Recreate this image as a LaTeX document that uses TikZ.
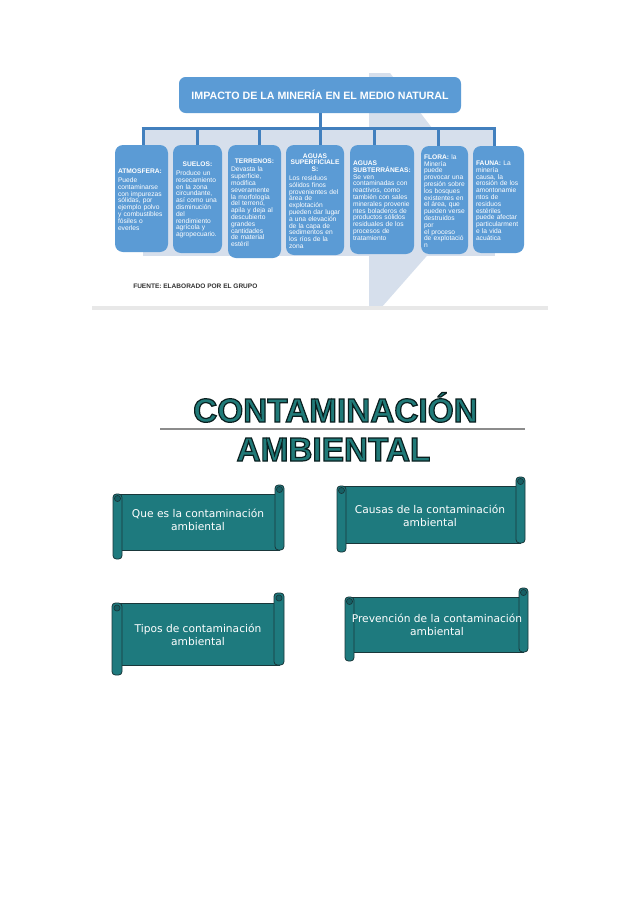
\documentclass[tikz,border=0pt]{standalone}
\usepackage{fontspec}
\usepackage{graphicx}
\setmainfont{Liberation Sans}
\newfontfamily\scrollfont{DejaVu Sans}
\definecolor{boxblue}{RGB}{91,155,213}
\definecolor{linkblue}{RGB}{66,128,190}
\definecolor{paleblue}{RGB}{214,223,236}
\definecolor{titleteal}{RGB}{32,122,120}
\definecolor{scrollteal}{RGB}{30,122,126}
\definecolor{scrollline}{RGB}{25,55,58}
\definecolor{curlteal}{RGB}{22,95,100}
\definecolor{srcgray}{RGB}{51,51,51}
\newcommand{\J}[1]{\par\noindent\hbox to \hsize{#1}\par}
\newcommand{\Lf}[1]{\par\noindent\hbox to \hsize{#1\hfil}\par}
\newcommand{\Cn}[1]{\par\noindent\hbox to \hsize{\hfil#1\hfil}\par}
\newcommand{\gapline}{\par\kern1.5pt}
\newcommand{\olt}[1]{\special{pdf:literal direct 2 Tr 0.9 w 0.04 0.12 0.12 RG}#1\special{pdf:literal direct 0 Tr 0.4 w}}
\newcommand{\scrollshape}[5]{%
  \filldraw[scrollbody] ({#1+#5/2},{#2+#5}) rectangle ({#3-#5/2},{#4-#5});
  \filldraw[scrollbody, rounded corners=2.5pt] ({#3-#5},{#2}) rectangle (#3,{#4-#5});
  \filldraw[scrollbody, rounded corners=2.5pt] (#1,{#2+#5}) rectangle ({#1+#5},#4);
  \filldraw[scrollcurl] ({#3-#5/2},{#2+#5/2}) circle[radius=2.3pt];
  \filldraw[scrollcurl] ({#1+#5/2},{#2+#5+#5/2}) circle[radius=2.3pt];
}
\tikzset{
  mbox/.style={fill=boxblue, rounded corners=6pt, inner xsep=2.25pt, inner ysep=0pt,
    text=white, font=\fontsize{5}{5.1}\selectfont, anchor=center},
  link/.style={draw=linkblue, line width=2.25pt},
  scrollbody/.style={fill=scrollteal, draw=scrollline, line width=0.6pt},
  scrollcurl/.style={fill=curlteal, draw=scrollline, line width=0.5pt},
  scrolltext/.style={align=center, text=white, font=\scrollfont\fontsize{8}{9.75}\selectfont},
  titletext/.style={anchor=base, inner sep=0pt, text=titleteal, font=\bfseries\fontsize{25}{28}\selectfont}
}
\begin{document}
\begin{tikzpicture}[x=0.75pt, y=-0.75pt]
\useasboundingbox (0,0) rectangle (638,903);
\fill[white] (0,0) rectangle (638,903);
% pale background shapes of the top figure
\fill[paleblue] (143,128) rectangle (495,256);
\fill[paleblue] (369,73) -- (390,73) -- (432,128) -- (369,128) -- cycle;
\fill[paleblue] (369,250) -- (432,250) -- (381,308) -- (369,308) -- cycle;
\draw[black!9, line width=2.5pt] (92,308) -- (548,308);
% title box
\node[fill=boxblue, rounded corners=5pt, minimum width=211.5pt, minimum height=27pt,
  text=white, font=\bfseries\fontsize{8}{9}\selectfont] (title) at (320,95)
  {IMPACTO DE LA MINERÍA EN EL MEDIO NATURAL};
% boxes
\node[mbox, minimum width=39.75pt, minimum height=80.25pt, text width=35.25pt] (atm) at (141.5,198.5) {%
\Lf{\textbf{ATMOSFERA:}}\gapline
\Lf{Puede}
\Lf{contaminarse}
\J{con impurezas}
\J{sólidas, por}
\J{ejemplo polvo}
\J{y combustibles}
\J{fósiles o}
\Lf{everles}};
\node[mbox, minimum width=36.75pt, minimum height=81pt, text width=32.25pt] (sue) at (197.5,199) {%
\Cn{\textbf{SUELOS:}}\gapline
\J{Produce un}
\Lf{resecamiento}
\J{en la zona}
\Lf{circundante,}
\J{así como una}
\Lf{disminución}
\Lf{del}
\Lf{rendimiento}
\J{agrícola y}
\Lf{agropecuario.}};
\node[mbox, minimum width=39.75pt, minimum height=84.75pt, text width=35.25pt] (ter) at (254.5,201.5) {%
\Cn{\textbf{TERRENOS:}}\gapline
\J{Devasta la}
\Lf{superficie,}
\Lf{modifica}
\Lf{severamente}
\J{la morfología}
\J{del terreno,}
\J{apila y deja al}
\Lf{descubierto}
\Lf{grandes}
\Lf{cantidades}
\J{de material}
\Lf{estéril}};
\node[mbox, minimum width=43.5pt, minimum height=82.5pt, text width=39pt] (sup) at (315,200) {%
\Cn{\textbf{AGUAS}}
\Cn{\textbf{SUPERFICIALE}}
\Cn{\textbf{S:}}\gapline
\J{Los residuos}
\J{sólidos finos}
\J{provenientes del}
\J{área de}
\Lf{explotación}
\J{pueden dar lugar}
\J{a una elevación}
\J{de la capa de}
\J{sedimentos en}
\J{los ríos de la}
\Lf{zona}};
\node[mbox, minimum width=48pt, minimum height=81.75pt, text width=43.5pt] (sub) at (382,199.5) {%
\Lf{\textbf{AGUAS}}
\Lf{\textbf{SUBTERRÁNEAS:}}
\J{Se ven}
\J{contaminadas con}
\J{reactivos, como}
\J{también con sales}
\J{minerales provenie}
\J{ntes boladeros de}
\J{productos sólidos}
\J{residuales de los}
\J{procesos de}
\Lf{tratamiento}};
\node[mbox, minimum width=35.25pt, minimum height=81pt, text width=30.75pt] (flo) at (444.5,200) {%
\J{\textbf{FLORA:} la}
\Lf{Minería}
\Lf{puede}
\J{provocar una}
\J{presión sobre}
\J{los bosques}
\J{existentes en}
\J{el área, que}
\J{pueden verse}
\Lf{destruidos}
\Lf{por}
\J{el proceso}
\J{de explotació}
\Lf{n}};
\node[mbox, minimum width=38.25pt, minimum height=80.25pt, text width=33.75pt] (fau) at (498.5,199.5) {%
\J{\textbf{FAUNA:} La}
\Lf{minería}
\J{causa, la}
\J{erosión de los}
\Lf{amontonamie}
\J{ntos de}
\Lf{residuos}
\Lf{estériles}
\J{puede afectar}
\Lf{particularment}
\J{e la vida}
\Lf{acuática}};
% connectors
\coordinate (hubL) at (143,128);
\coordinate (hubR) at (495,128);
\coordinate (d1) at (143,128);
\coordinate (d2) at (197,128);
\coordinate (d3) at (259,128);
\coordinate (d4) at (320,128);
\coordinate (d5) at (374,128);
\coordinate (d6) at (438,128);
\coordinate (d7) at (494,128);
\draw[link] (title.south) -- (title.south |- hubL);
\draw[link] ([xshift=-1.1pt]hubL) -- ([xshift=1.1pt]hubR);
\draw[link] (d1) -- (d1 |- atm.north);
\draw[link] (d2) -- (d2 |- sue.north);
\draw[link] (d3) -- (d3 |- ter.north);
\draw[link] (d4) -- (d4 |- sup.north);
\draw[link] (d5) -- (d5 |- sub.north);
\draw[link] (d6) -- (d6 |- flo.north);
\draw[link] (d7) -- (d7 |- fau.north);
% source
\node[anchor=west, inner sep=0pt, text=srcgray, font=\bfseries\fontsize{4.9}{6}\selectfont] (src) at (133,286) {FUENTE: ELABORADO POR EL GRUPO};
% scrolls
\scrollshape{113}{485}{284}{559}{9}
\node[scrolltext] (s1) at (198,520) {Que es la contaminación\\ambiental};
\scrollshape{337}{477}{525}{552}{9}
\node[scrolltext] (s2) at (430,516) {Causas de la contaminación\\ambiental};
\scrollshape{112}{593}{284}{675}{10}
\node[scrolltext] (s3) at (198,635) {Tipos de contaminación\\ambiental};
\scrollshape{345}{588}{528}{661}{9}
\node[scrolltext] (s4) at (437,625) {Prevención de la contaminación\\ambiental};
% heading
\coordinate (ulL) at (160,429);
\coordinate (ulR) at (525,429);
\draw[black!45, line width=0.8pt] (ulL) -- (ulR);
\node[titletext] (t1) at (335.5,422) {\olt{CONTAMINACIÓN}};
\node[titletext] (t2) at (333.5,461) {\olt{AMBIENTAL}};
\end{tikzpicture}
\end{document}
